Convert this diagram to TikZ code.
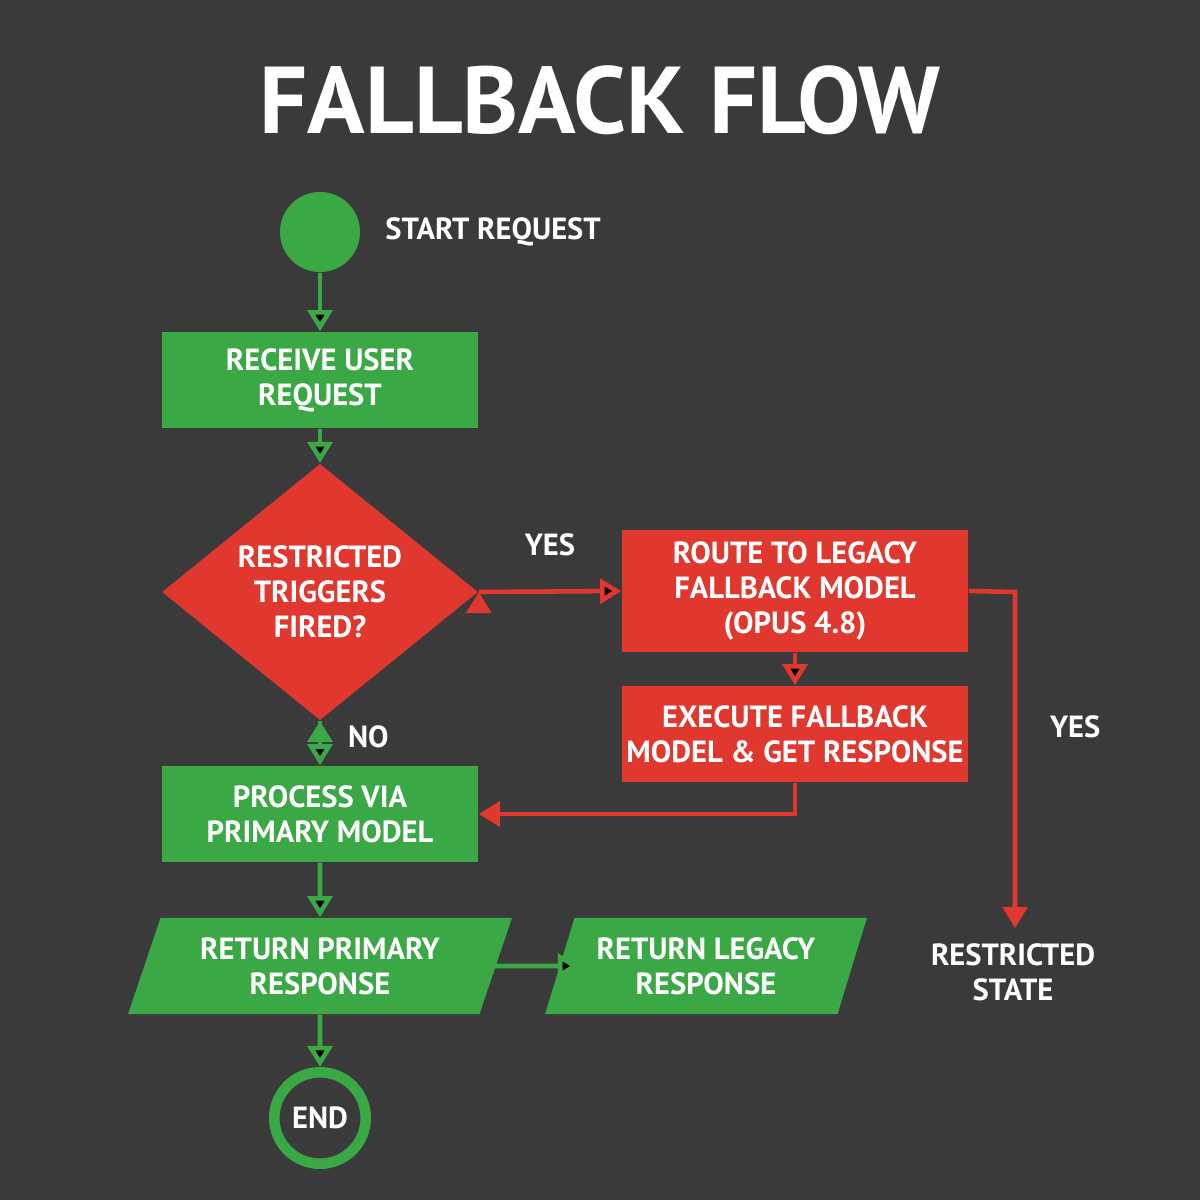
\documentclass[tikz,border=0pt]{standalone}
\usepackage{fontspec}
\setmainfont{PT Sans}
\usetikzlibrary{shapes.geometric,arrows.meta}
\definecolor{bg}{HTML}{3A3A3A}
\definecolor{okgreen}{HTML}{3AA845}
\definecolor{alertred}{HTML}{E0372E}
\tikzset{
  box/.style={rectangle, fill=#1, text=white, font=\bfseries\fontsize{8.7}{10}\selectfont, align=center, inner sep=0pt},
  flow/.style={-{Triangle[length=6pt,width=7pt]}, line width=1.3pt, draw=#1},
  tag/.style={text=white, font=\bfseries\fontsize{8.7}{10}\selectfont, align=center}
}
\begin{document}
\begin{tikzpicture}[x=0.01cm,y=-0.01cm]
\fill[bg] (0,0) rectangle (1200,1200);
\useasboundingbox (0,0) rectangle (1200,1200);
\node[text=white, font=\bfseries\fontsize{27}{30}\selectfont] (title) at (600,100) {FALLBACK FLOW};
\node[shape=circle, fill=okgreen, minimum size=0.8cm] (start) at (320,232) {};
\node[tag, anchor=west] (startlbl) at (373,232) {START REQUEST};
\node[box=okgreen, minimum width=3.16cm, minimum height=0.96cm] (receive) at (320,380) {RECEIVE USER\\REQUEST};
\node[box=alertred, shape=diamond, minimum width=3.16cm, minimum height=2.08cm] (check) at (320,592) {RESTRICTED\\TRIGGERS\\FIRED?};
\node[box=alertred, minimum width=3.46cm, minimum height=1.22cm] (route) at (795,591) {ROUTE TO LEGACY\\FALLBACK MODEL\\(OPUS 4.8)};
\node[box=alertred, minimum width=3.46cm, minimum height=0.96cm] (execute) at (795,734) {EXECUTE FALLBACK\\MODEL \& GET RESPONSE};
\node[box=okgreen, minimum width=3.16cm, minimum height=0.96cm] (process) at (320,814) {PROCESS VIA\\PRIMARY MODEL};
\node[box=okgreen, shape=trapezium, trapezium left angle=67, trapezium right angle=113, trapezium stretches=true, minimum width=3.84cm, minimum height=0.96cm] (primary) at (320,966) {RETURN PRIMARY\\RESPONSE};
\node[box=okgreen, shape=trapezium, trapezium left angle=67, trapezium right angle=113, trapezium stretches=true, minimum width=3.23cm, minimum height=0.96cm] (legacy) at (706,966) {RETURN LEGACY\\RESPONSE};
\node[shape=circle, draw=okgreen, line width=3pt, minimum size=0.86cm, tag] (end) at (320,1118) {END};
\node[tag] (restricted) at (1013,972) {RESTRICTED\\STATE};
\coordinate (corner) at (1015,592);
\coordinate (stop) at (1015,928);
\path [flow=okgreen] (start) edge (receive);
\path [flow=okgreen] (receive) edge (check);
\path [flow=alertred] (check.east) edge node[tag, above=6pt] {YES} (route.west);
\path [flow=okgreen] (check.south) edge node[tag, right=4pt, pos=0.35] {NO} (process.north);
\path [flow=alertred] (route) edge (execute);
\draw [flow=alertred] (execute.south) |- (process.east);
\draw [flow=alertred] (route.east) -- (corner) -- node[tag, right=6pt, pos=0.4] {YES} (stop);
\path [flow=okgreen] (process) edge (primary);
\path [flow=okgreen] ([xshift=-0.2cm]primary.east) edge ([xshift=0.2cm]legacy.west);
\path [flow=okgreen] (primary) edge (end);
\end{tikzpicture}
\end{document}
